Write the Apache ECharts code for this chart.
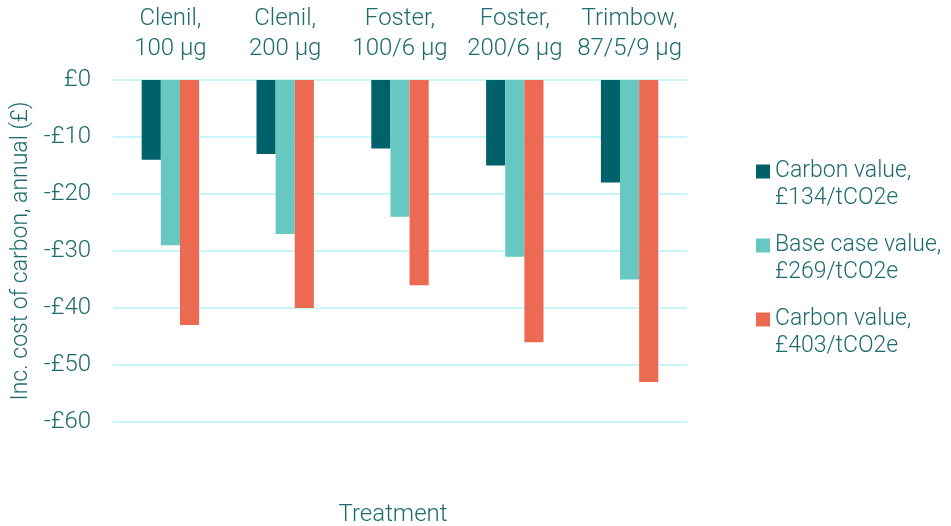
<!DOCTYPE html>
<html>
<head>
<meta charset="utf-8">
<script src="https://cdn.jsdelivr.net/npm/echarts@6/dist/echarts.min.js"></script>
<style>
    html, body { margin: 0; padding: 0; background: #fff; }
    #carbonCost { width: 951px; height: 526px; }
</style>
</head>
<body>
<div id="carbonCost"></div>
<script>
    // treatments (top axis) and the three carbon valuations
    const categories = ['Clenil,\n100 µg', 'Clenil,\n200 µg', 'Foster,\n100/6 µg', 'Foster,\n200/6 µg', 'Trimbow,\n87/5/9 µg']
    const carbon134 = [-14, -13, -12, -15, -18]
    const baseCase269 = [-29, -27, -24, -31, -35]
    const carbon403 = [-43, -40, -36, -46, -53]
    const yTicks = [0, -10, -20, -30, -40, -50, -60]
    const yTickLabels = ['£0', '-£10', '-£20', '-£30', '-£40', '-£50', '-£60']
    const seriesNames = ['Carbon value,\n£134/tCO2e', 'Base case value,\n£269/tCO2e', 'Carbon value,\n£403/tCO2e']

    const textColor = '#1d6b6e'
    const font = 'Roboto'

    const _option = {
        animation: false,
        color: ['#00616a', '#66c8c1', '#ec6a51'],
        textStyle: { fontFamily: font },
        title: {
            text: 'Treatment',
            left: 388,
            top: 498,
            textAlign: 'center',
            textStyle: { color: textColor, fontSize: 24, fontWeight: 300, fontFamily: font }
        },
        legend: {
            orient: 'vertical',
            left: 751,
            top: 126,
            itemWidth: 14,
            itemHeight: 14,
            itemGap: -7,
            icon: 'rect',
            data: seriesNames,
            // blank first line so the icon sits beside the first text line
            formatter: name => '\n' + name,
            textStyle: {
                color: textColor,
                fontSize: 23,
                fontWeight: 300,
                fontFamily: font,
                lineHeight: 27
            }
        },
        grid: {
            left: 113,
            right: 264,
            top: 80,
            bottom: 104,
            containLabel: false,
            outerBoundsMode: 'none'
        },
        xAxis: {
            type: 'category',
            position: 'top',
            data: categories,
            axisLine: { show: false },
            axisTick: { show: false },
            axisLabel: {
                color: textColor,
                fontSize: 24,
                fontWeight: 300,
                fontFamily: font,
                lineHeight: 30,
                margin: 16,
                interval: 0
            }
        },
        yAxis: {
            type: 'value',
            min: -60,
            max: 0,
            interval: 10,
            name: 'Inc. cost of carbon, annual (£)',
            nameLocation: 'middle',
            nameGap: 78,
            nameTextStyle: { color: textColor, fontSize: 23, fontWeight: 300, fontFamily: font },
            axisLine: { show: false },
            axisTick: { show: false },
            splitLine: { lineStyle: { color: '#c8f7f7', width: 2 } },
            axisLabel: {
                color: textColor,
                fontSize: 24,
                fontWeight: 300,
                fontFamily: font,
                margin: 22,
                formatter: v => yTickLabels[yTicks.indexOf(v)]
            }
        },
        series: [
            { name: seriesNames[0], type: 'bar', data: carbon134, barGap: 0, barCategoryGap: '50%' },
            { name: seriesNames[1], type: 'bar', data: baseCase269, barGap: 0, barCategoryGap: '50%' },
            { name: seriesNames[2], type: 'bar', data: carbon403, barGap: 0, barCategoryGap: '50%' }
        ]
    }

    const chart = echarts.init(document.getElementById('carbonCost'))
    chart.setOption(_option)
    window.addEventListener('resize', () => chart.resize())
</script>
</body>
</html>
